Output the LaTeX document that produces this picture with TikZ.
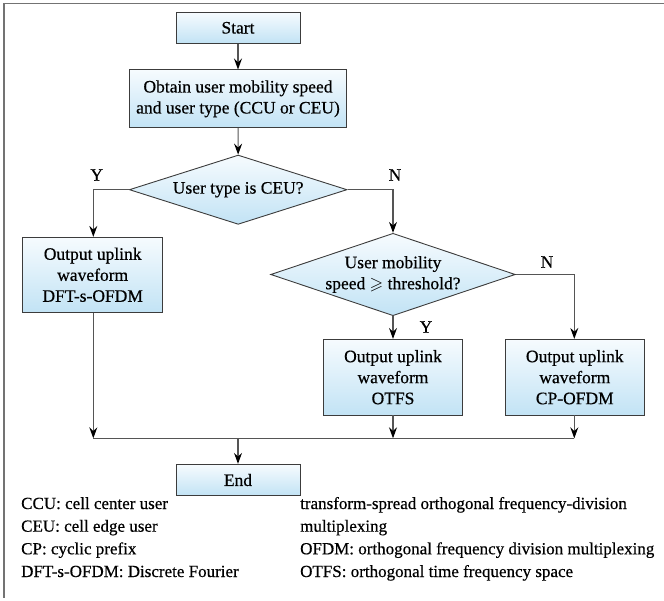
\documentclass[tikz,border=0pt]{standalone}
\usepackage{fontspec}
\usepackage{amssymb}
\newfontfamily\figserif{Liberation Serif}[FakeBold=0.5]
\usetikzlibrary{shapes.geometric,arrows.meta}

\definecolor{boxtop}{RGB}{246,251,254}
\definecolor{boxbot}{RGB}{194,227,245}
\definecolor{edgegray}{RGB}{60,60,60}
\definecolor{linegray}{RGB}{85,85,85}
\definecolor{framegray}{RGB}{115,115,115}

\tikzset{
  every node/.style={font=\figserif\fontsize{17.5}{21}\selectfont},
  procbox/.style={draw=edgegray, line width=0.9pt, top color=boxtop, bottom color=boxbot,
    inner sep=0pt, align=center},
  decision/.style={diamond, draw=edgegray, line width=0.9pt, top color=boxtop, bottom color=boxbot,
    inner sep=0pt},
  flow/.style={draw=linegray, line width=1.1pt},
  arrowflow/.style={flow, -{Stealth[length=11pt,width=8pt,inset=3.8pt,color=black]}},
  branchlabel/.style={inner sep=0pt},
  legend/.style={anchor=west, inner sep=0pt, text height=12pt, text depth=4pt,
    font=\figserif\fontsize{17}{20}\selectfont}
}

\begin{document}
\begin{tikzpicture}[x=1pt, y=-1pt]
  \useasboundingbox (0,0) rectangle (664,601);

  % frame along the top and left edges
  \draw[framegray, line width=1.4pt] (664,3.5) -- (4,3.5) -- (4,598);

  % process boxes
  \node[procbox, minimum width=124pt, minimum height=31pt] (start) at (238,27.8) {Start};
  \node[procbox, minimum width=217.7pt, minimum height=57.7pt] (obtain) at (238,98.8)
    {Obtain user mobility speed\\and user type (CCU or CEU)};
  \node[decision, minimum width=217.7pt, minimum height=69.3pt, shape aspect=3.14,
    label={center:User type is CEU?}] (ceu) at (238.2,189.7) {};
  \node[procbox, minimum width=140pt, minimum height=75pt] (dft) at (92.7,274.8)
    {Output uplink\\waveform\\DFT-s-OFDM};
  \node[decision, minimum width=244.6pt, minimum height=82.4pt, shape aspect=2.97,
    label={[align=center]center:User mobility\\speed $\geqslant$ threshold?}] (speed) at (393,274.5) {};
  \node[procbox, minimum width=139.4pt, minimum height=75.7pt] (otfs) at (393,377.2)
    {Output uplink\\waveform\\OTFS};
  \node[procbox, minimum width=139pt, minimum height=75.7pt] (cpofdm) at (574.8,377.2)
    {Output uplink\\waveform\\CP-OFDM};
  \node[procbox, minimum width=124pt, minimum height=31.4pt] (end) at (238,480) {End};

  % merge points on the collecting line
  \coordinate (mL) at (93.3,438.3);
  \coordinate (mM) at (393,438.3);
  \coordinate (mR) at (574.3,438.3);
  \coordinate (mC) at (238,438.3);

  % connectors
  \draw[arrowflow] (start) -- (obtain);
  \draw[arrowflow] (obtain) -- (ceu);
  \draw[arrowflow] (ceu.west) -| (dft.north -| mL);
  \draw[arrowflow] (ceu.east) -| (speed.north);
  \draw[arrowflow] (speed.south) -- (otfs.north);
  \draw[arrowflow] (speed.east) -| (cpofdm.north -| mR);
  \draw[arrowflow] (dft.south -| mL) -- (mL);
  \draw[arrowflow] (otfs.south) -- (mM);
  \draw[arrowflow] (cpofdm.south -| mR) -- (mR);
  \draw[flow] (mL) -- (mR);
  \draw[arrowflow] (mC) -- (end.north);

  % branch labels
  \node[branchlabel] (y1) at (96.7,175) {Y};
  \node[branchlabel] (n1) at (395,175) {N};
  \node[branchlabel] (n2) at (547,262) {N};
  \node[branchlabel] (y2) at (426,327) {Y};

  % abbreviations
  \node[legend] (l1) at (21,505) {CCU: cell center user};
  \node[legend] (l2) at (21,527.7) {CEU: cell edge user};
  \node[legend] (l3) at (21,550.3) {CP: cyclic prefix};
  \node[legend] (l4) at (21,573) {DFT-s-OFDM: Discrete Fourier};
  \node[legend] (r1) at (300,505) {transform-spread orthogonal frequency-division};
  \node[legend] (r2) at (300,527.7) {multiplexing};
  \node[legend] (r3) at (300,550.3) {OFDM: orthogonal frequency division multiplexing};
  \node[legend] (r4) at (300,573) {OTFS: orthogonal time frequency space};
\end{tikzpicture}
\end{document}
